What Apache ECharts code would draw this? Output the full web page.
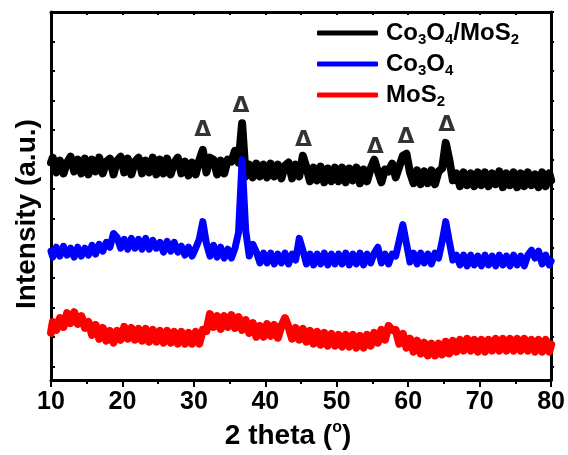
<!DOCTYPE html>
<html>
<head>
<meta charset="utf-8">
<script src="https://cdn.jsdelivr.net/npm/echarts@6/dist/echarts.min.js"></script>
<style>
  html, body { margin: 0; padding: 0; background: #fff; }
  #chart { width: 568px; height: 455px; }
</style>
</head>
<body>
<div id="chart"></div>
<script>
const FONT = "'Liberation Sans', Arial, sans-serif";

// 2 theta sampling (degrees)
const twoTheta = [10,
  10.25, 10.75, 11.25, 11.75, 12.25, 12.75, 13.25, 13.75, 14.25, 14.75,
  15.25, 15.75, 16.25, 16.75, 17.25, 17.75, 18.25, 18.75, 19.25, 19.75,
  20.25, 20.75, 21.25, 21.75, 22.25, 22.75, 23.25, 23.75, 24.25, 24.75,
  25.25, 25.75, 26.25, 26.75, 27.25, 27.75, 28.25, 28.75, 29.25, 29.75,
  30.25, 30.75, 31.25, 31.75, 32.25, 32.75, 33.25, 33.75, 34.25, 34.75,
  35.25, 35.75, 36.25, 36.75, 37.25, 37.75, 38.25, 38.75, 39.25, 39.75,
  40.25, 40.75, 41.25, 41.75, 42.25, 42.75, 43.25, 43.75, 44.25, 44.75,
  45.25, 45.75, 46.25, 46.75, 47.25, 47.75, 48.25, 48.75, 49.25, 49.75,
  50.25, 50.75, 51.25, 51.75, 52.25, 52.75, 53.25, 53.75, 54.25, 54.75,
  55.25, 55.75, 56.25, 56.75, 57.25, 57.75, 58.25, 58.75, 59.25, 59.75,
  60.25, 60.75, 61.25, 61.75, 62.25, 62.75, 63.25, 63.75, 64.25, 64.75,
  65.25, 65.75, 66.25, 66.75, 67.25, 67.75, 68.25, 68.75, 69.25, 69.75,
  70.25, 70.75, 71.25, 71.75, 72.25, 72.75, 73.25, 73.75, 74.25, 74.75,
  75.25, 75.75, 76.25, 76.75, 77.25, 77.75, 78.25, 78.75, 79.25, 79.75,
  80];

// intensities (a.u., stacked offsets)
const coMoS = [221,
  226, 211, 223, 210, 221, 227, 212, 224, 210, 225,
  209, 224, 212, 226, 210, 222, 225, 209, 223, 227,
  211, 225, 209, 222, 226, 210, 223, 211, 226, 209,
  224, 210, 225, 209, 221, 226, 210, 222, 208, 221,
  209, 223, 234, 211, 226, 224, 209, 223, 210, 224,
  222, 233, 221, 261, 207, 219, 206, 220, 207, 219,
  206, 220, 207, 219, 205, 218, 221, 205, 219, 207,
  228, 216, 202, 216, 203, 217, 201, 215, 202, 216,
  202, 216, 201, 215, 203, 216, 200, 214, 202, 215,
  224, 212, 201, 214, 212, 220, 206, 217, 228, 230,
  211, 200, 213, 199, 212, 200, 213, 199, 212, 215,
  241, 224, 203, 210, 197, 211, 198, 210, 197, 211,
  198, 211, 197, 210, 199, 212, 196, 210, 198, 211,
  196, 210, 197, 211, 198, 209, 196, 211, 197, 210,
  203];

const co3o4 = [131,
  125, 135, 126, 136, 127, 134, 125, 135, 126, 134,
  127, 137, 128, 138, 131, 140, 135, 149, 145, 134,
  143, 133, 144, 134, 143, 133, 144, 133, 142, 134,
  140, 130, 141, 131, 140, 130, 136, 127, 135, 126,
  134, 143, 161, 139, 126, 137, 125, 135, 124, 133,
  124, 134, 150, 224, 152, 126, 138, 130, 119, 129,
  119, 129, 118, 128, 119, 129, 118, 128, 122, 144,
  132, 118, 128, 117, 128, 118, 129, 117, 128, 118,
  128, 118, 129, 117, 128, 118, 129, 117, 128, 119,
  129, 135, 119, 128, 118, 128, 126, 142, 158, 139,
  120, 129, 118, 129, 119, 128, 118, 129, 124, 141,
  161, 141, 122, 127, 117, 127, 116, 127, 117, 126,
  116, 127, 117, 126, 116, 127, 117, 126, 116, 127,
  117, 126, 116, 127, 132, 124, 131, 118, 127, 117,
  121];

const mos2 = [48,
  59, 51, 63, 54, 68, 58, 69, 57, 65, 53,
  59, 46, 56, 42, 53, 40, 50, 38, 50, 41,
  54, 42, 53, 41, 52, 40, 52, 39, 51, 39,
  50, 38, 50, 38, 49, 37, 49, 37, 48, 37,
  49, 37, 51, 50, 67, 54, 65, 52, 65, 54,
  66, 53, 64, 51, 61, 48, 58, 44, 55, 44,
  57, 45, 56, 43, 55, 63, 54, 42, 53, 41,
  52, 39, 50, 37, 49, 36, 48, 35, 47, 35,
  46, 34, 46, 34, 46, 33, 45, 33, 46, 35,
  48, 38, 51, 41, 55, 51, 51, 37, 47, 33,
  42, 29, 40, 27, 38, 25, 37, 25, 37, 26,
  39, 27, 40, 29, 41, 30, 42, 30, 41, 29,
  41, 29, 41, 30, 42, 30, 42, 30, 42, 30,
  42, 30, 42, 30, 41, 29, 41, 29, 41, 29,
  36];

// Δ markers above the Co3O4 reflections
const markTheta = [31.25, 36.6, 45.35, 55.4, 59.7, 65.4];
const markLevel = [254, 278, 244, 237, 247, 259];

const yTicks = [14, 44, 74, 104, 134, 164, 194, 224, 254, 284, 314, 344, 374];

const seriesNames = ['Co3O4/MoS2', 'Co3O4', 'MoS2'];
const seriesColors = ['#000000', '#0000ff', '#ff0000'];
const seriesWidths = [8, 7, 8];
const seriesValues = [coMoS, co3o4, mos2];
const legendText = {
  'Co3O4/MoS2': '{n|Co}{s|3}{n|O}{s|4}{n|/MoS}{s|2}',
  'Co3O4': '{n|Co}{s|3}{n|O}{s|4}',
  'MoS2': '{n|MoS}{s|2}'
};

const chart = echarts.init(document.getElementById('chart'));

const frameLine = { show: true, onZero: false, lineStyle: { color: '#000', width: 3 } };

const lineSeries = seriesNames.map((name, k) => ({
  name: name,
  type: 'line',
  data: twoTheta.map((t, i) => [t, seriesValues[k][i]]),
  showSymbol: false,
  symbol: 'none',
  lineStyle: { color: seriesColors[k], width: seriesWidths[k], join: 'round', cap: 'round' },
  itemStyle: { color: seriesColors[k] }
}));

const option = {
  animation: false,
  backgroundColor: '#fff',
  grid: { left: 51, right: 14, top: 12, bottom: 69 },
  legend: {
    orient: 'vertical',
    left: 317,
    top: 21,
    padding: 0,
    itemWidth: 61,
    itemHeight: 5,
    itemGap: 5,
    icon: 'roundRect',
    data: seriesNames,
    formatter: name => legendText[name],
    textStyle: {
      padding: [0, 0, 0, 3],
      rich: {
        n: { fontSize: 24, fontWeight: 'bold', fontFamily: FONT, color: '#000', lineHeight: 28 },
        s: { fontSize: 15, fontWeight: 'bold', fontFamily: FONT, color: '#000', lineHeight: 16, verticalAlign: 'bottom' }
      }
    }
  },
  xAxis: [
    {
      type: 'value', position: 'bottom', min: 10, max: 80, interval: 10,
      axisLine: frameLine,
      axisTick: { show: true, inside: false, length: 7, lineStyle: { color: '#000', width: 2 } },
      minorTick: { show: true, splitNumber: 2, length: 4, lineStyle: { color: '#000', width: 2 } },
      axisLabel: { margin: 10, fontSize: 25, fontWeight: 'bold', color: '#000', fontFamily: FONT },
      splitLine: { show: false },
      minorSplitLine: { show: false },
      name: '{n|2 theta (}{sup|o}{n|)}',
      nameLocation: 'middle',
      nameGap: 38,
      nameTextStyle: {
        padding: [0, 26, 0, 0],
        rich: {
          n: { fontSize: 28, fontWeight: 'bold', fontFamily: FONT, color: '#000', lineHeight: 32 },
          sup: { fontSize: 16, fontWeight: 'bold', fontFamily: FONT, color: '#000', lineHeight: 14, verticalAlign: 'top' }
        }
      }
    },
    {
      type: 'value', position: 'top', min: 10, max: 80, interval: 5,
      axisLine: frameLine,
      axisTick: { show: true, inside: true, length: 3, lineStyle: { color: '#000', width: 2 } },
      axisLabel: { show: false },
      splitLine: { show: false }
    }
  ],
  yAxis: [
    {
      type: 'value', position: 'left', min: 0, max: 374,
      axisLine: frameLine,
      axisTick: { show: true, inside: true, length: 4, customValues: yTicks, lineStyle: { color: '#000', width: 2 } },
      axisLabel: { show: false },
      splitLine: { show: false },
      name: 'Intensity (a.u.)',
      nameLocation: 'middle',
      nameGap: 10,
      nameTextStyle: { fontSize: 28, fontWeight: 'bold', fontFamily: FONT, color: '#000', padding: [0, 36, 0, 0] }
    },
    {
      type: 'value', position: 'right', min: 0, max: 374,
      axisLine: frameLine,
      axisTick: { show: true, inside: false, length: 3, customValues: yTicks, lineStyle: { color: '#000', width: 2 } },
      axisLabel: { show: false },
      splitLine: { show: false }
    }
  ],
  series: lineSeries.concat([{
    name: 'marks',
    type: 'scatter',
    silent: true,
    symbolSize: 0,
    z: 10,
    itemStyle: { color: '#000' },
    data: markTheta.map((t, i) => [t, markLevel[i]]),
    label: {
      show: true, position: 'inside', formatter: 'Δ',
      fontSize: 22, fontWeight: 'bold', fontFamily: "'DejaVu Sans', sans-serif",
      color: '#000', textBorderWidth: 0
    }
  }])
};

chart.setOption(option);
</script>
</body>
</html>
